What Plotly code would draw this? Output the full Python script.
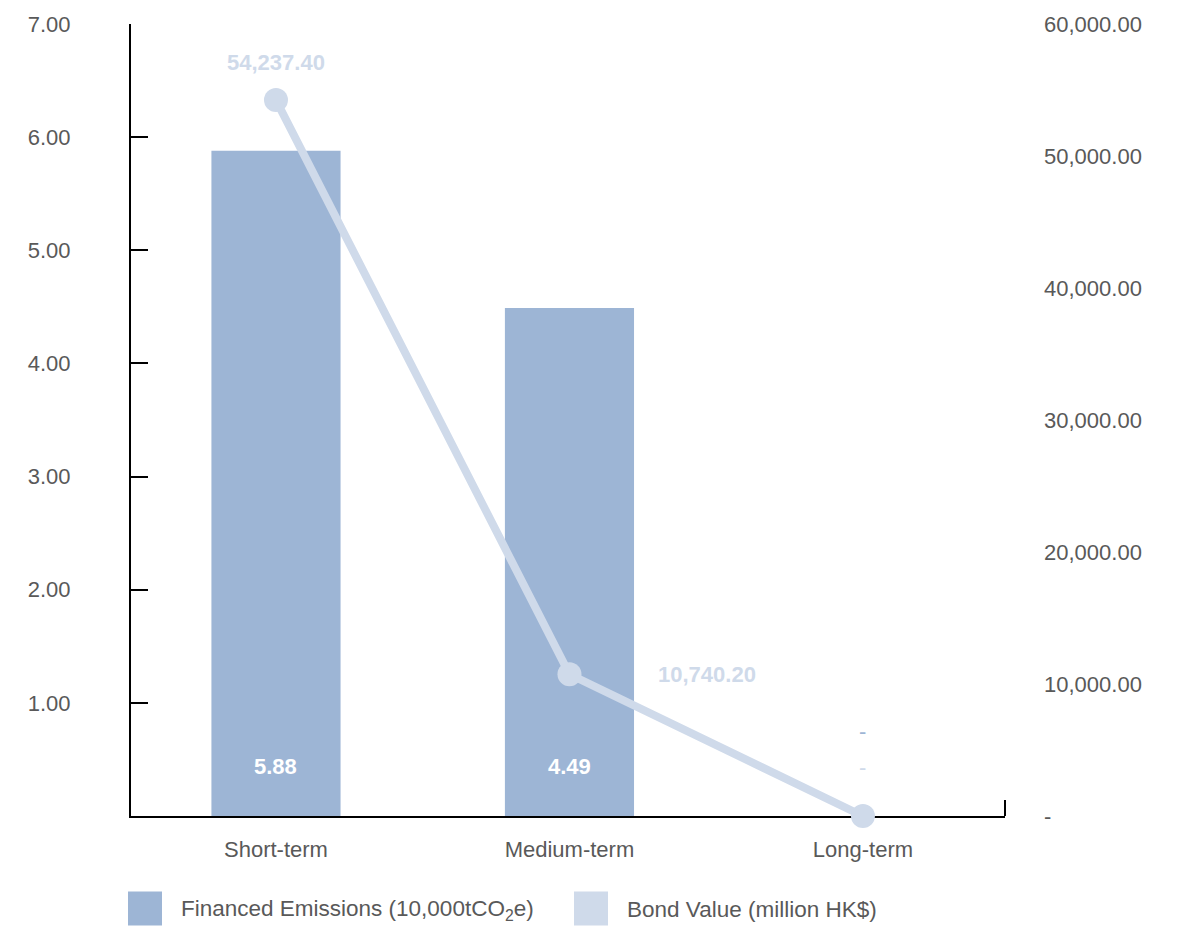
import plotly.graph_objects as go

categories = ["Short-term", "Medium-term", "Long-term"]
emissions = [5.88, 4.49, 0.0]
bond_value = [54237.40, 10740.20, 0.0]
left_ticks = [1, 2, 3, 4, 5, 6, 7]
right_ticks = [0, 10000, 20000, 30000, 40000, 50000, 60000]

BAR_COLOR = "#9db5d5"
LINE_COLOR = "#cfdaea"
TEXT_COLOR = "#595959"
FONT = "Liberation Sans, Arial, sans-serif"
FS = 22

def fmt(v, sep=False):
    if v == 0:
        return "-"
    return f"{v:,.2f}" if sep else f"{v:.2f}"

fig = go.Figure()
fig.add_trace(go.Bar(
    x=categories, y=emissions, marker_color=BAR_COLOR, marker_line_width=0,
    name="Financed Emissions (10,000tCO<sub>2</sub>e)", hoverinfo="skip",
))
fig.add_trace(go.Scatter(
    x=categories, y=bond_value, yaxis="y2", mode="lines+markers",
    line=dict(color=LINE_COLOR, width=8), marker=dict(color=LINE_COLOR, size=24),
    cliponaxis=False, name="Bond Value (million HK$)", hoverinfo="skip",
))

annotations = []
# bar labels (inside bottom; "-" for zero)
for c, v in zip(categories, emissions):
    annotations.append(dict(
        x=c, y=0, xref="x", yref="y", text=("<b>%s</b>" % fmt(v)) if v else fmt(v),
        showarrow=False, yshift=50 if v else 85,
        font=dict(family=FONT, size=FS, color="white" if v else BAR_COLOR),
    ))
# line labels
line_label_shift = [(0, 38), (138, 0), (0, 49)]
for (c, v), (dx, dy) in zip(zip(categories, bond_value), line_label_shift):
    annotations.append(dict(
        x=c, y=v, xref="x", yref="y2", text="<b>%s</b>" % fmt(v, True) if v else fmt(v, True),
        showarrow=False, xshift=dx, yshift=dy,
        font=dict(family=FONT, size=FS, color=LINE_COLOR),
    ))

# custom legend
PW, PH = 874.0, 796.0
def px(x): return (x - 131) / PW
def py(y): return (816 - y) / PH
legend_items = [("Financed Emissions (10,000tCO<sub>2</sub>e)", BAR_COLOR, 128),
                ("Bond Value (million HK$)", LINE_COLOR, 574)]
shapes = []
for text, col, x0 in legend_items:
    shapes.append(dict(type="rect", xref="paper", yref="paper",
                       x0=px(x0), x1=px(x0 + 34), y0=py(926), y1=py(892),
                       fillcolor=col, line_width=0))
    annotations.append(dict(x=px(x0 + 51), y=py(910), xref="paper", yref="paper",
                            xanchor="left", yanchor="middle", showarrow=False, text=text,
                            font=dict(family=FONT, size=22.5, color=TEXT_COLOR)))
# small end tick on the right of the x axis
shapes.append(dict(type="line", xref="paper", yref="paper", x0=1, x1=1,
                   y0=0, y1=16 / PH, line=dict(color="black", width=2)))

fig.update_layout(
    width=1182, height=926,
    margin=dict(l=131, r=177, t=20, b=110),
    plot_bgcolor="white", paper_bgcolor="white",
    showlegend=False, bargap=0.56,
    font=dict(family=FONT, size=FS, color=TEXT_COLOR),
    xaxis=dict(range=[-0.494, 2.484], showline=True, linecolor="black", linewidth=2,
               ticks="", showgrid=False, ticklabelstandoff=13, layer="below traces",
               tickfont=dict(size=FS, color=TEXT_COLOR)),
    yaxis=dict(range=[0, 7], tickvals=left_ticks, ticktext=[fmt(v) for v in left_ticks],
               showline=True, linecolor="black", linewidth=2, ticks="inside",
               ticklen=17, tickwidth=2, tickcolor="black", showgrid=False, zeroline=False,
               ticklabelstandoff=54, layer="below traces",
               tickfont=dict(size=FS, color=TEXT_COLOR)),
    yaxis2=dict(range=[0, 60000], overlaying="y", side="right", tickvals=right_ticks,
                ticktext=[fmt(v, True) for v in right_ticks], showline=False,
                showgrid=False, zeroline=False, ticks="", ticklabelstandoff=38,
                tickfont=dict(size=FS, color=TEXT_COLOR)),
    annotations=annotations, shapes=shapes,
)

fig.write_html("out.html")
